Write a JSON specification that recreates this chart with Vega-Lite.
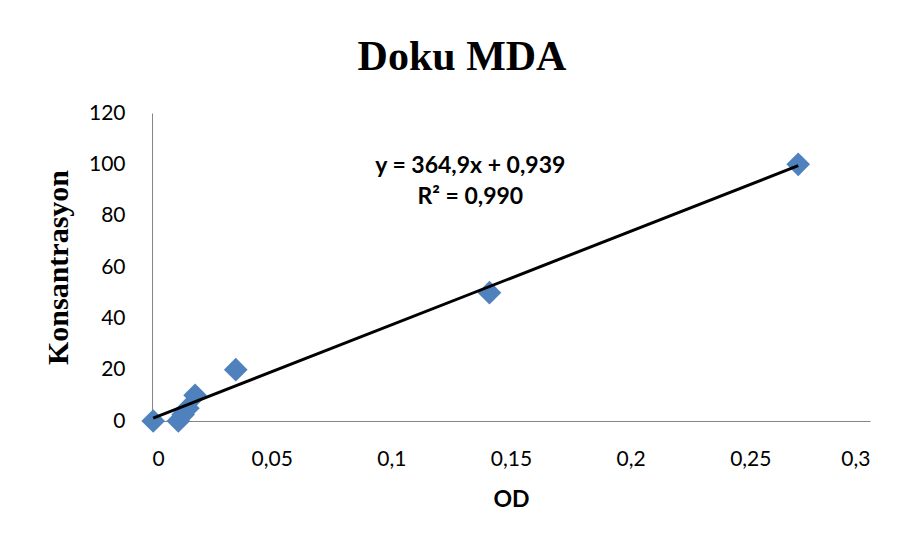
{
  "$schema": "https://vega.github.io/schema/vega-lite/v6.json",
  "width": 718,
  "height": 308,
  "autosize": "none",
  "padding": {"left": 152, "top": 113, "right": 37, "bottom": 127},
  "background": "white",
  "config": {"view": {"stroke": null}},
  "title": {
    "text": "Doku MDA",
    "font": "Liberation Serif",
    "fontSize": 42,
    "fontWeight": "bold",
    "color": "black",
    "anchor": "middle",
    "frame": "group",
    "dx": -49,
    "offset": 23
  },
  "datasets": {
    "points": [
      {"OD": 0.0005, "K": 0},
      {"OD": 0.011, "K": 0},
      {"OD": 0.013, "K": 2.5},
      {"OD": 0.015, "K": 5},
      {"OD": 0.018, "K": 10},
      {"OD": 0.035, "K": 20},
      {"OD": 0.141, "K": 50},
      {"OD": 0.27, "K": 100}
    ],
    "trend": [
      {"OD": 0.0005, "K": 1.12},
      {"OD": 0.27, "K": 99.46}
    ],
    "labels": [
      {"OD": 0.133, "K": 99.3, "t": "y = 364,9x + 0,939"},
      {"OD": 0.133, "K": 87.3, "t": "R² = 0,990"}
    ]
  },
  "encoding": {
    "x": {
      "field": "OD",
      "type": "quantitative",
      "scale": {"domain": [0, 0.3], "nice": false, "zero": false},
      "axis": {
        "title": "OD",
        "values": [0, 0.05, 0.1, 0.15, 0.2, 0.25, 0.3],
        "labelExpr": "replace(format(datum.value, '~r'), '.', ',')",
        "grid": false,
        "ticks": false,
        "domainColor": "#868686",
        "labelFont": "Lato",
        "labelFontSize": 21,
        "labelColor": "black",
        "labelPadding": 27,
        "titleFont": "Lato",
        "titleFontSize": 23,
        "titleFontWeight": "bold",
        "titleColor": "black",
        "titlePadding": 19
      }
    },
    "y": {
      "field": "K",
      "type": "quantitative",
      "scale": {"domain": [0, 120], "nice": false},
      "axis": {
        "title": "Konsantrasyon",
        "values": [0, 20, 40, 60, 80, 100, 120],
        "grid": false,
        "ticks": false,
        "domainColor": "#868686",
        "labelFont": "Lato",
        "labelFontSize": 21,
        "labelColor": "black",
        "labelPadding": 27,
        "titleFont": "Liberation Serif",
        "titleFontSize": 30,
        "titleFontWeight": "bold",
        "titleColor": "black",
        "titlePadding": 15
      }
    }
  },
  "layer": [
    {
      "data": {"name": "points"},
      "mark": {"type": "point", "shape": "diamond", "filled": true, "size": 560, "color": "#4F81BD", "opacity": 1}
    },
    {
      "data": {"name": "trend"},
      "mark": {"type": "line", "color": "black", "strokeWidth": 3}
    },
    {
      "data": {"name": "labels"},
      "mark": {"type": "text", "font": "Lato", "fontSize": 23, "fontWeight": "bold", "color": "black", "align": "center", "baseline": "middle"},
      "encoding": {"text": {"field": "t"}}
    }
  ]
}
